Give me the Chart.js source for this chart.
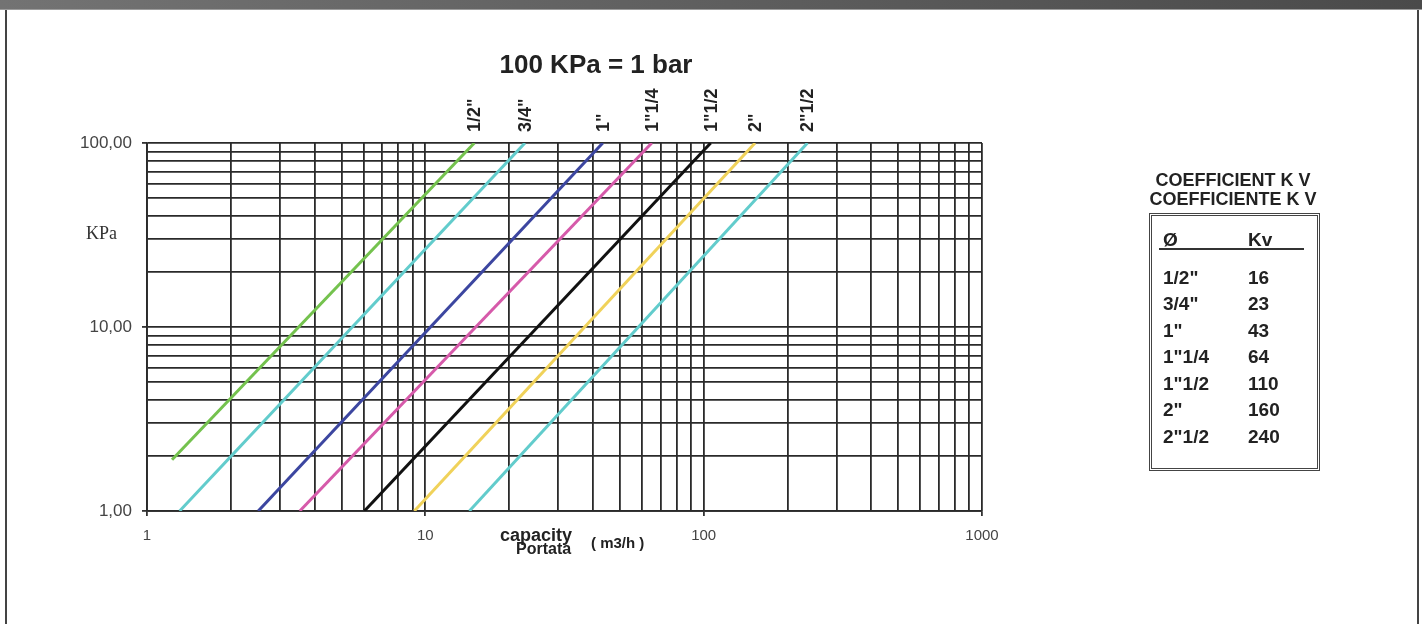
<!DOCTYPE html>
<html>
<head>
<meta charset="utf-8">
<title>Coefficient Kv</title>
<script src="https://cdn.jsdelivr.net/npm/chart.js@4.4.1/dist/chart.umd.min.js"></script>
<style>
  body { margin: 0; background: #fff; font-family: Arial, "Liberation Sans", sans-serif; }
  #wrap { position: relative; width: 1422px; height: 624px; overflow: hidden; }
  #topbar { position: absolute; left: 0; top: 0; width: 1422px; height: 9px;
            background: linear-gradient(to right, #737373, #4a4a4a); border-bottom: 1px solid #9c9c9c; }
  #frame { position: absolute; left: 5px; top: 10px; width: 1410px; height: 640px;
           border-left: 2px solid #444; border-right: 2px solid #444; }
  canvas { position: absolute; left: 0; top: 0; }
  .t { position: absolute; line-height: 1; white-space: nowrap; color: #222; font-weight: bold; }
  .rot { position: absolute; line-height: 1; white-space: nowrap; color: #222; font-weight: bold;
         font-size: 18px; transform-origin: 0 0; transform: rotate(-90deg); }
  #kvbox { position: absolute; left: 1149px; top: 213px; width: 165px; height: 252px;
           border: 3px double #444; }
  .cell { position: absolute; line-height: 1; white-space: nowrap; color: #222; font-weight: bold; font-size: 19px; }
</style>
</head>
<body>
<div id="wrap">
  <div id="topbar"></div>
  <div id="frame"></div>
  <canvas id="kvChart" width="1422" height="624"></canvas>

  <div class="t" style="left:596px; top:51px; font-size:26px; transform:translateX(-50%);">100 KPa = 1 bar</div>
  <div class="t" style="left:86px; top:224px; font-size:18px; font-weight:normal; color:#333; font-family:'Liberation Serif','Times New Roman',serif;">KPa</div>
  <div class="t" style="left:500px; top:526px; font-size:18px;">capacity</div>
  <div class="t" style="left:516px; top:541px; font-size:16px;">Portata</div>
  <div class="t" style="left:591px; top:535px; font-size:15px;">( m3/h )</div>

  <div class="t" style="left:1233px; top:171px; font-size:18px; transform:translateX(-50%);">COEFFICIENT K V</div>
  <div class="t" style="left:1233px; top:190px; font-size:18px; transform:translateX(-50%);">COEFFICIENTE K V</div>
  <div id="kvbox"></div>
</div>

<script>
    // valve sizes and their Kv coefficients
    var sizes = ['1/2"', '3/4"', '1"', '1"1/4', '1"1/2', '2"', '2"1/2'];
    var kvValues = [16, 23, 43, 64, 110, 160, 240];

    // line ends: capacity (m3/h) and pressure drop (KPa)
    var flowStart = [1.23, 1.31, 2.51, 3.54, 6.04, 9.13, 14.4];
    var kpaStart = [1.9, 1, 1, 1, 1, 1, 1];
    var flowEnd = [15.0, 22.8, 43.4, 65.1, 106, 153, 236];
    var kpaEnd = [100, 100, 100, 100, 100, 100, 100];

    var lineColors = ['#74c24e', '#62cccc', '#3c46a0', '#d65aaa', '#111111', '#f0d25a', '#62cccc'];

    // grid and tick labels
    var xGrid = [1, 2, 3, 4, 5, 6, 7, 8, 9, 10, 20, 30, 40, 50, 60, 70, 80, 90,
                 100, 200, 300, 400, 500, 600, 700, 800, 900, 1000];
    var yGrid = [1, 2, 3, 4, 5, 6, 7, 8, 9, 10, 20, 30, 40, 50, 60, 70, 80, 90, 100];
    var xTickValues = [1, 10, 100, 1000];
    var xTickLabels = ['1', '10', '100', '1000'];
    var yTickValues = [1, 10, 100];
    var yTickLabels = ['1,00', '10,00', '100,00'];

    var datasets = sizes.map(function (s, i) {
        return {
            label: s,
            data: [{x: flowStart[i], y: kpaStart[i]}, {x: flowEnd[i], y: kpaEnd[i]}],
            borderColor: lineColors[i],
            borderWidth: 3,
            pointRadius: 0,
            tension: 0
        };
    });

    function labelFor(values, labels, v) {
        var k = values.indexOf(v);
        return k >= 0 ? labels[k] : '';
    }

    var gridStyle = {
        color: '#2a2a2a',
        lineWidth: 1.8,
        tickLength: 5,
        tickColor: function (c) { return c.tick && c.tick.major ? '#333' : 'rgba(0,0,0,0)'; }
    };

    var ctx = document.getElementById('kvChart').getContext('2d');
    var chart = new Chart(ctx, {
        type: 'line',
        data: { datasets: datasets },
        options: {
            responsive: false,
            animation: false,
            layout: { padding: { left: 0, top: 143, right: 440, bottom: 0 } },
            plugins: { legend: { display: false }, tooltip: { enabled: false } },
            scales: {
                x: {
                    type: 'logarithmic',
                    min: 1, max: 1000,
                    afterBuildTicks: function (scale) {
                        scale.ticks = xGrid.map(function (v) { return {value: v, major: xTickValues.indexOf(v) >= 0}; });
                    },
                    afterFit: function (scale) { scale.height = 113; },
                    ticks: {
                        autoSkip: false, maxRotation: 0, padding: 11,
                        color: '#444', font: { family: 'Arial, "Liberation Sans"', size: 15 },
                        callback: function (v) { return labelFor(xTickValues, xTickLabels, v); }
                    },
                    grid: gridStyle,
                    border: { color: '#2a2a2a', width: 1.8 }
                },
                y: {
                    type: 'logarithmic',
                    min: 1, max: 100,
                    afterBuildTicks: function (scale) {
                        scale.ticks = yGrid.map(function (v) { return {value: v, major: yTickValues.indexOf(v) >= 0}; });
                    },
                    afterFit: function (scale) { scale.width = 147; },
                    ticks: {
                        autoSkip: false, padding: 10,
                        color: '#444', font: { family: 'Arial, "Liberation Sans"', size: 17 },
                        callback: function (v) { return labelFor(yTickValues, yTickLabels, v); }
                    },
                    grid: gridStyle,
                    border: { color: '#2a2a2a', width: 1.8 }
                }
            }
        }
    });

    // rotated size labels above the top end of each line
    var wrap = document.getElementById('wrap');
    sizes.forEach(function (s, i) {
        var el = document.createElement('div');
        el.className = 'rot';
        el.textContent = s;
        el.style.left = (chart.scales.x.getPixelForValue(flowEnd[i]) - 9) + 'px';
        el.style.top = '132px';
        wrap.appendChild(el);
    });

    // Kv table
    function cell(text, left, top) {
        var el = document.createElement('div');
        el.className = 'cell';
        el.textContent = text;
        el.style.left = left + 'px';
        el.style.top = top + 'px';
        wrap.appendChild(el);
    }
    cell('Ø', 1163, 230);
    cell('Kv', 1248, 230);
    var rule = document.createElement('div');
    rule.style.cssText = 'position:absolute;left:1159px;top:248px;width:145px;height:2px;background:#333;';
    wrap.appendChild(rule);
    sizes.forEach(function (s, i) {
        cell(s, 1163, 267.5 + i * 26.5);
        cell(String(kvValues[i]), 1248, 267.5 + i * 26.5);
    });
</script>
</body>
</html>
